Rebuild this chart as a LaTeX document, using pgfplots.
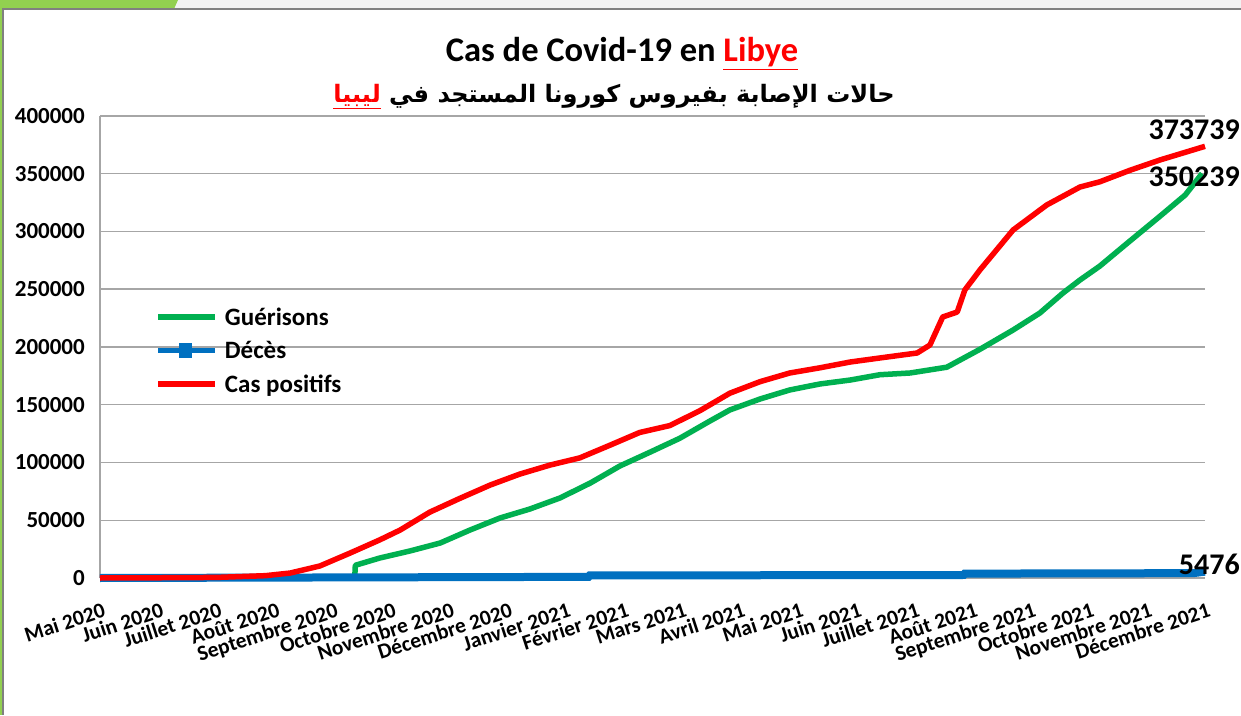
\documentclass[border=0pt]{standalone}
\usepackage{pgfplots}
\pgfplotsset{compat=1.18}
\usepackage{fontspec}
\setmainfont{Carlito}
\newfontfamily\arabicfont[Script=Arabic]{DejaVu Sans}
\TeXXeTstate=1
\definecolor{cgreen}{HTML}{00B050}
\definecolor{cblue}{HTML}{0070C0}
\definecolor{cred}{HTML}{FF0000}
\definecolor{tabgreen}{HTML}{92D050}
\definecolor{gridgray}{HTML}{A6A6A6}
\begin{document}
\begin{tikzpicture}[x=1pt,y=1pt]
\path[use as bounding box] (0,0) rectangle (1241,715);
\fill[white] (0,0) rectangle (1241,715);
\fill[black!5] (0,706) rectangle (1241,715);
\fill[tabgreen] (0,706) -- (174,706) -- (178,715) -- (0,715) -- cycle;
\fill[tabgreen] (0,0) rectangle (2,715);
\draw[gray, line width=2pt] (3,0) -- (3,706) -- (1241,706);
\node[anchor=base, font=\bfseries\fontsize{34.5}{34.5}\selectfont, inner sep=0] at (622,653) {Cas de Covid-19 en \textcolor{cred}{\underline{Libye}}};
\node[anchor=base, font=\arabicfont\bfseries\fontsize{24}{24}\selectfont, inner sep=0] at (614,612) {\textcolor{cred}{\underline{\hbox{ليبيا}}} \beginR حالات الإصابة بفيروس كورونا المستجد في\endR};
\begin{axis}[
  at={(100pt,137pt)}, anchor=origin,
  scale only axis, width=1105pt, height=462pt,
  xmin=0, xmax=19, ymin=0, ymax=400000,
  clip=false,
  axis x line*=bottom, axis y line*=left,
  axis line style={draw=gridgray, line width=1.5pt},
  ytick={0,50000,...,400000},
  ymajorgrids, grid style={gridgray, line width=1.5pt},
  major tick length=0pt,
  scaled y ticks=false,
  /pgf/number format/assume math mode=true,
  yticklabel style={/pgf/number format/fixed, /pgf/number format/1000 sep={}, font=\bfseries\fontsize{23}{23}\selectfont, anchor=east, inner sep=0pt, xshift=-15pt},
  xtick={0,...,19},
  xticklabels={Mai 2020,Juin 2020,Juillet 2020,Août 2020,Septembre 2020,Octobre 2020,Novembre 2020,Décembre 2020,Janvier 2021,Février 2021,Mars 2021,Avril 2021,Mai 2021,Juin 2021,Juillet 2021,Août 2021,Septembre 2021,Octobre 2021,Novembre 2021,Décembre 2021},
  xticklabel style={font=\bfseries\fontsize{21.5}{21.5}\selectfont, xshift=2pt, yshift=-24pt, rotate=18, anchor=north east, inner sep=0pt},
  legend style={at={(0.05,0.59)}, anchor=north west, draw=none, fill=none, inner sep=0pt, font=\bfseries\fontsize{25}{25}\selectfont, row sep=10.5pt, /tikz/every odd column/.append style={column sep=5pt}},
  legend cell align=left,
  legend image code/.code={\draw[#1] (0pt,0pt) -- (57pt,0pt);},
]
\addplot[cgreen, line width=5.5pt, line join=round] coordinates {
(4.38,0) (4.39,11000) (4.81,17300) (5.33,23400) (5.85,30300) (6.36,41500) (6.88,52000) (7.39,59700) (7.91,69300) (8.43,82200) (8.94,97000) (9.46,109000) (9.97,121000) (10.49,136000) (10.83,145500) (11.35,155000) (11.86,162800) (12.38,168000) (12.90,171400) (13.41,176000) (13.93,177500) (14.56,182500) (15.13,198000) (15.70,214700) (16.16,229400) (16.56,246800) (16.85,258000) (17.19,270000) (17.71,291800) (18.23,313400) (18.66,331600) (18.95,350239)
};
\addlegendentry{Guérisons}
\addplot[cblue, line width=8pt, legend image code/.code={\draw[cblue, line width=5.5pt] (0pt,0pt) -- (57pt,0pt); \fill[cblue] (25pt,-3.8pt) rectangle (30pt,3.8pt);}] coordinates {
(0,0) (8.4,1000) (8.42,2200) (14.85,2600) (14.87,3800) (18.8,4200) (19,5476)
};
\addlegendentry{Décès}
\addplot[cred, line width=5.5pt, line join=round] coordinates {
(0,0) (1,200) (2,500) (2.84,2000) (3.27,4300) (3.78,10400) (4.30,21600) (4.81,33000) (5.16,41500) (5.67,57000) (6.19,69000) (6.71,80500) (7.22,90000) (7.74,97800) (8.25,104000) (8.77,115000) (9.28,126000) (9.80,132000) (10.32,145000) (10.83,160000) (11.35,170000) (11.86,177500) (12.38,182000) (12.90,187000) (13.41,190500) (14.05,194800) (14.27,201700) (14.49,226000) (14.74,230300) (14.87,249300) (15.13,266700) (15.70,301300) (16.28,323000) (16.85,338500) (17.19,343000) (17.71,353000) (18.23,362000) (19,373739)
};
\addlegendentry{Cas positifs}
\node[font=\bfseries\fontsize{30}{30}\selectfont, anchor=south east, inner sep=0pt, xshift=35pt, yshift=6pt] at (axis cs:19,373739) {373739};
\node[font=\bfseries\fontsize{30}{30}\selectfont, anchor=east, inner sep=0pt, xshift=35pt, yshift=-3pt] at (axis cs:19,350239) {350239};
\node[font=\bfseries\fontsize{30}{30}\selectfont, anchor=east, inner sep=0pt, xshift=35pt, yshift=7pt] at (axis cs:19,5476) {5476};
\end{axis}
\end{tikzpicture}
\end{document}
